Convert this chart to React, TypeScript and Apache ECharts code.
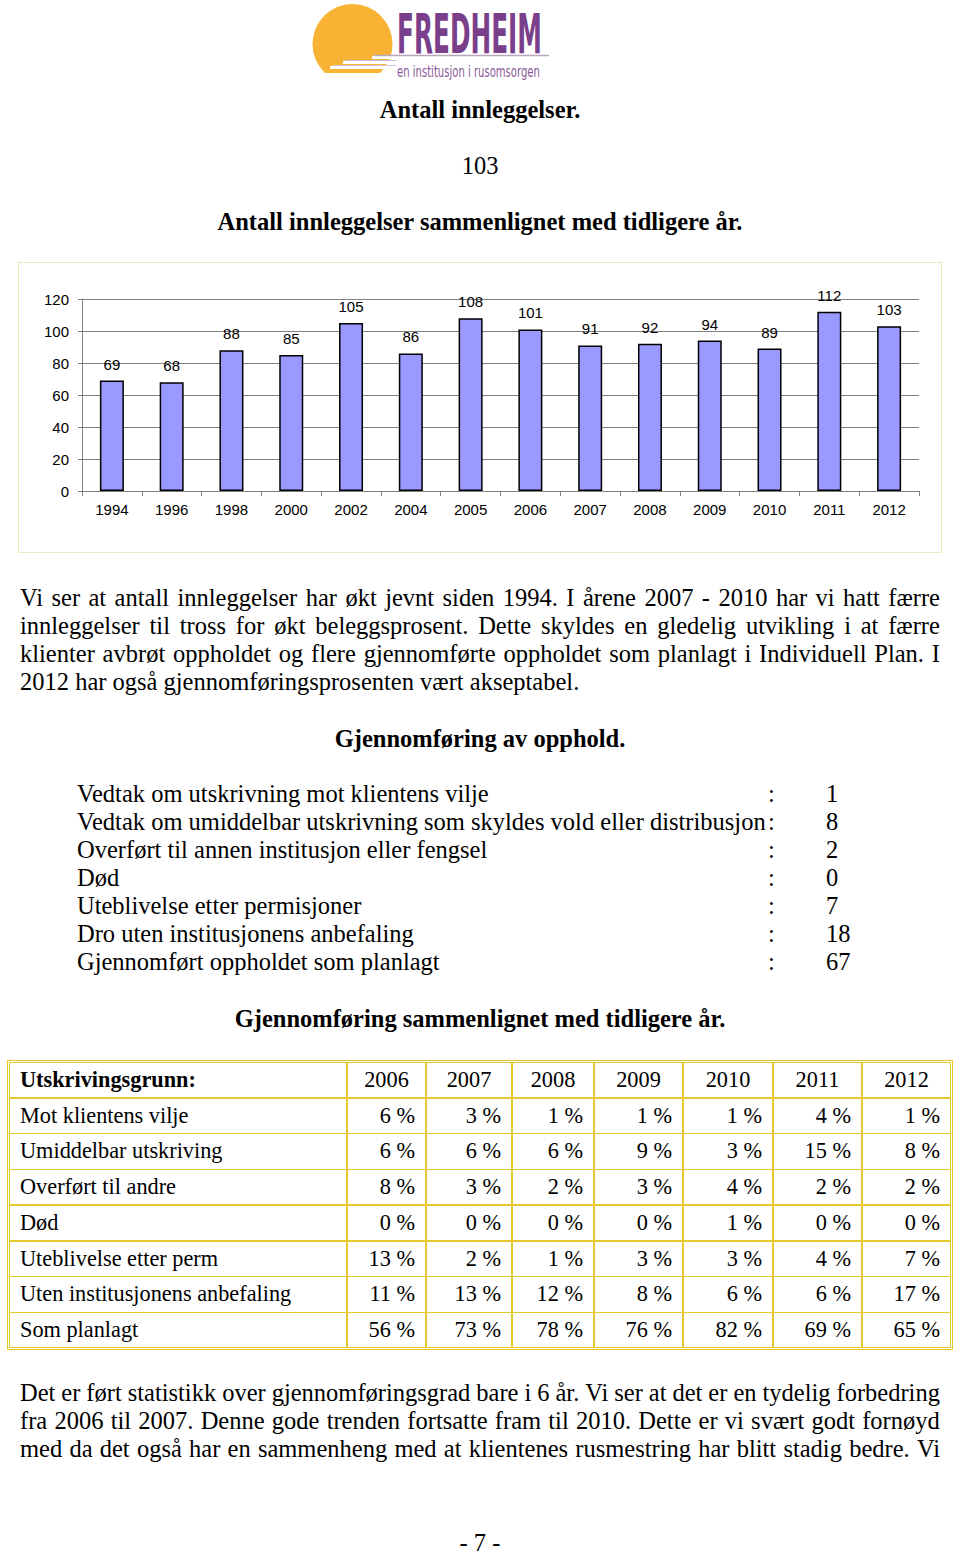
import React, { useEffect, useLayoutEffect, useRef, useState } from "react";
import * as echarts from "echarts";

const years = ["1994", "1996", "1998", "2000", "2002", "2004", "2005", "2006", "2007", "2008", "2009", "2010", "2011", "2012"];
const admissions = [69, 68, 88, 85, 105, 86, 108, 101, 91, 92, 94, 89, 112, 103];

const para1 = [
  "Vi ser at antall innleggelser har økt jevnt siden 1994. I årene 2007 - 2010 har vi hatt færre",
  "innleggelser til tross for økt beleggsprosent. Dette skyldes en gledelig utvikling i at færre",
  "klienter avbrøt oppholdet og flere gjennomførte oppholdet som planlagt i Individuell Plan. I",
  "2012 har også gjennomføringsprosenten vært akseptabel.",
];

const outcomeLabels = [
  "Vedtak om utskrivning mot klientens vilje",
  "Vedtak om umiddelbar utskrivning som skyldes vold eller distribusjon",
  "Overført til annen institusjon eller fengsel",
  "Død",
  "Uteblivelse etter permisjoner",
  "Dro uten institusjonens anbefaling",
  "Gjennomført oppholdet som planlagt",
];
const outcomeValues = ["1", "8", "2", "0", "7", "18", "67"];

const tableYears = ["2006", "2007", "2008", "2009", "2010", "2011", "2012"];
const tableReasons = [
  "Mot klientens vilje",
  "Umiddelbar utskriving",
  "Overført til andre",
  "Død",
  "Uteblivelse etter perm",
  "Uten institusjonens anbefaling",
  "Som planlagt",
];
const rowMot = [6, 3, 1, 1, 1, 4, 1];
const rowUmiddelbar = [6, 6, 6, 9, 3, 15, 8];
const rowOverfort = [8, 3, 2, 3, 4, 2, 2];
const rowDod = [0, 0, 0, 0, 1, 0, 0];
const rowUteblivelse = [13, 2, 1, 3, 3, 4, 7];
const rowUten = [11, 13, 12, 8, 6, 6, 17];
const rowPlanlagt = [56, 73, 78, 76, 82, 69, 65];
const tableValues = [rowMot, rowUmiddelbar, rowOverfort, rowDod, rowUteblivelse, rowUten, rowPlanlagt];

const para2 = [
  "Det er ført statistikk over gjennomføringsgrad bare i 6 år. Vi ser at det er en tydelig forbedring",
  "fra 2006 til 2007. Denne gode trenden fortsatte fram til 2010. Dette er vi svært godt fornøyd",
  "med da det også har en sammenheng med at klientenes rusmestring har blitt stadig bedre. Vi",
];

const SERIF = "'Liberation Serif', 'Times New Roman', Times, serif";
const SANS = "'Liberation Sans', Arial, Helvetica, sans-serif";
const NARROW = "'Liberation Sans Narrow', 'DejaVu Sans Condensed', 'Liberation Sans', sans-serif";
const FS = 24.5;
const FS_TABLE = 22.3;
const GOLD = "#e5c72e";

function BarChart() {
  const ref = useRef<HTMLDivElement>(null);
  useEffect(() => {
    const chart = echarts.init(ref.current!, null, { renderer: "svg" });
    chart.setOption({
      animation: false,
      grid: { left: 63, right: 22, top: 36, bottom: 61 },
      xAxis: {
        type: "category",
        data: years,
        axisLine: { lineStyle: { color: "#808080", width: 1 } },
        axisTick: { show: true, length: 5, lineStyle: { color: "#808080" } },
        axisLabel: { color: "#000", fontSize: 15, fontFamily: SANS, margin: 11, interval: 0 },
      },
      yAxis: {
        type: "value",
        min: 0,
        max: 120,
        interval: 20,
        axisLine: { show: true, lineStyle: { color: "#808080", width: 1 } },
        axisTick: { show: true, length: 4, lineStyle: { color: "#808080" } },
        splitLine: { lineStyle: { color: "#808080", width: 1 } },
        axisLabel: { color: "#000", fontSize: 15, fontFamily: SANS, margin: 13 },
      },
      series: [
        {
          type: "bar",
          data: admissions,
          barWidth: 24,
          itemStyle: { color: "#9999ff", borderColor: "#000", borderWidth: 1.5 },
          label: { show: true, position: "top", distance: 9, color: "#000", fontSize: 15, fontFamily: SANS },
        },
      ],
    });
    return () => chart.dispose();
  }, []);
  return <div ref={ref} style={{ position: "absolute", left: 19, top: 263, width: 922, height: 289 }} />;
}

function TextLine(props: { cy: number; left: number; width: number; text: string; bold?: boolean; align?: string; size?: number; lh?: number }) {
  const { cy, left, width, text, bold, align, size } = props;
  const lh = props.lh ?? 28;
  return (
    <div
      style={{
        position: "absolute",
        left,
        top: cy - lh / 2,
        width,
        height: lh,
        lineHeight: lh + "px",
        fontSize: size ?? FS,
        fontFamily: SERIF,
        fontWeight: bold ? "bold" : "normal",
        textAlign: (align ?? "left") as any,
        whiteSpace: "nowrap",
        color: "#000",
      }}
    >
      {text}
    </div>
  );
}

function JustifiedLine(props: { cy: number; left: number; width: number; text: string }) {
  const { cy, left, width, text } = props;
  const words = text.split(" ");
  return (
    <div
      style={{
        position: "absolute",
        left,
        top: cy - 14,
        width,
        height: 28,
        lineHeight: "28px",
        fontSize: FS,
        fontFamily: SERIF,
        color: "#000",
        display: "flex",
        justifyContent: "space-between",
        columnGap: 3,
        whiteSpace: "nowrap",
      }}
    >
      {words.map((w, i) => (
        <span key={i}>{w}</span>
      ))}
    </div>
  );
}

function FitText(props: { x: number; y: number; width: number; size: number; bold?: boolean; fill: string; text: string }) {
  const ref = useRef<SVGTextElement>(null);
  const [k, setK] = useState(1);
  useLayoutEffect(() => {
    if (ref.current) {
      const w = ref.current.getComputedTextLength();
      if (w > 0) setK(props.width / w);
    }
  }, []);
  return (
    <text
      ref={ref}
      x={0}
      y={0}
      transform={`translate(${props.x},${props.y}) scale(${k},1)`}
      fontSize={props.size}
      fontWeight={props.bold ? "bold" : "normal"}
      fontFamily={NARROW}
      fill={props.fill}
    >
      {props.text}
    </text>
  );
}

function Logo() {
  return (
    <svg width={960} height={90} style={{ position: "absolute", left: 0, top: 0 }}>
      <defs>
        <clipPath id="sunclip">
          <rect x={300} y={0} width={110} height={73} />
        </clipPath>
      </defs>
      <circle cx={352.5} cy={44} r={40} fill="#f8b334" clipPath="url(#sunclip)" />
      <rect x={372} y={56} width={30} height={3} fill="#ffffff" />
      <rect x={343} y={61} width={60} height={3} fill="#ffffff" />
      <rect x={330} y={66} width={70} height={3} fill="#ffffff" />
      <line x1={374} y1={55.5} x2={549} y2={55.5} stroke="#b7a6be" strokeWidth={1.5} />
      <line x1={345} y1={60.5} x2={396} y2={60.5} stroke="#c9bccd" strokeWidth={1} />
      <line x1={333} y1={65.5} x2={396} y2={65.5} stroke="#d4c9d7" strokeWidth={1} />
      <FitText x={397} y={53} width={145} size={55} bold fill="#7a3f8a" text="FREDHEIM" />
      <FitText x={397} y={77} width={143} size={15} fill="#8a5a98" text="en institusjon i rusomsorgen" />
    </svg>
  );
}

function Table() {
  const colEdges = [9, 347, 426, 512, 594, 683, 773, 862, 951];
  const top = 1062;
  const rowH = 35.75;
  const nRows = 8;
  const bottom = top + rowH * nRows;
  const els: any[] = [];
  els.push(
    <div
      key="outer"
      style={{
        position: "absolute",
        left: 7,
        top: top - 2,
        width: 946,
        height: bottom - top + 4,
        border: `3px double ${GOLD}`,
        boxSizing: "border-box",
      }}
    />
  );
  for (let i = 1; i < colEdges.length - 1; i++) {
    els.push(
      <div key={"v" + i} style={{ position: "absolute", left: colEdges[i] - 0.75, top: top, width: 1.5, height: bottom - top, background: GOLD }} />
    );
  }
  for (let r = 1; r < nRows; r++) {
    els.push(
      <div key={"h" + r} style={{ position: "absolute", left: 9, top: top + r * rowH - 0.75, width: 942, height: 1.5, background: GOLD }} />
    );
  }
  const cell = (key: string, r: number, c: number, text: string, align: string, bold?: boolean) => {
    const l = colEdges[c];
    const w = colEdges[c + 1] - colEdges[c];
    const cy = top + r * rowH + rowH / 2;
    els.push(
      <div
        key={key}
        style={{
          position: "absolute",
          left: l + (align === "left" ? 11 : 0),
          top: cy - 14,
          width: align === "center" ? w : w - 11,
          lineHeight: "28px",
          fontSize: FS_TABLE,
          fontFamily: SERIF,
          fontWeight: bold ? "bold" : "normal",
          textAlign: align as any,
          whiteSpace: "nowrap",
        }}
      >
        {text}
      </div>
    );
  };
  cell("hdr", 0, 0, "Utskrivingsgrunn:", "left", true);
  tableYears.forEach((y, i) => cell("y" + i, 0, i + 1, y, "center"));
  tableReasons.forEach((name, r) => {
    cell("n" + r, r + 1, 0, name, "left");
    tableValues[r].forEach((v, c) => cell(`c${r}_${c}`, r + 1, c + 1, `${v} %`, "right"));
  });
  return <>{els}</>;
}

export default function App() {
  return (
    <div style={{ position: "absolute", left: 0, top: 0, width: 960, height: 1556, background: "#fff", overflow: "hidden" }}>
      <Logo />
      <TextLine cy={110} left={0} width={960} text="Antall innleggelser." bold align="center" />
      <TextLine cy={166} left={0} width={960} text="103" align="center" />
      <TextLine cy={222} left={0} width={960} text="Antall innleggelser sammenlignet med tidligere år." bold align="center" />
      <div
        style={{
          position: "absolute",
          left: 18,
          top: 262,
          width: 924,
          height: 291,
          border: "1.5px solid #ebebbd",
          boxSizing: "border-box",
        }}
      />
      <BarChart />
      {para1.map((t, i) =>
        i < para1.length - 1 ? (
          <JustifiedLine key={"p1" + i} cy={598 + i * 28} left={20} width={920} text={t} />
        ) : (
          <TextLine key={"p1" + i} cy={598 + i * 28} left={20} width={920} text={t} />
        )
      )}
      <TextLine cy={739} left={0} width={960} text="Gjennomføring av opphold." bold align="center" />
      {outcomeLabels.map((t, i) => (
        <React.Fragment key={"o" + i}>
          <TextLine cy={794 + i * 28} left={77} width={690} text={t} />
          <TextLine cy={794 + i * 28} left={768} width={12} text=":" />
          <TextLine cy={794 + i * 28} left={826} width={60} text={outcomeValues[i]} />
        </React.Fragment>
      ))}
      <TextLine cy={1019} left={0} width={960} text="Gjennomføring sammenlignet med tidligere år." bold align="center" />
      <Table />
      {para2.map((t, i) => (
        <JustifiedLine key={"p2" + i} cy={1393 + i * 28} left={20} width={920} text={t} />
      ))}
      <TextLine cy={1543} left={0} width={960} text="- 7 -" align="center" lh={20} />
    </div>
  );
}
